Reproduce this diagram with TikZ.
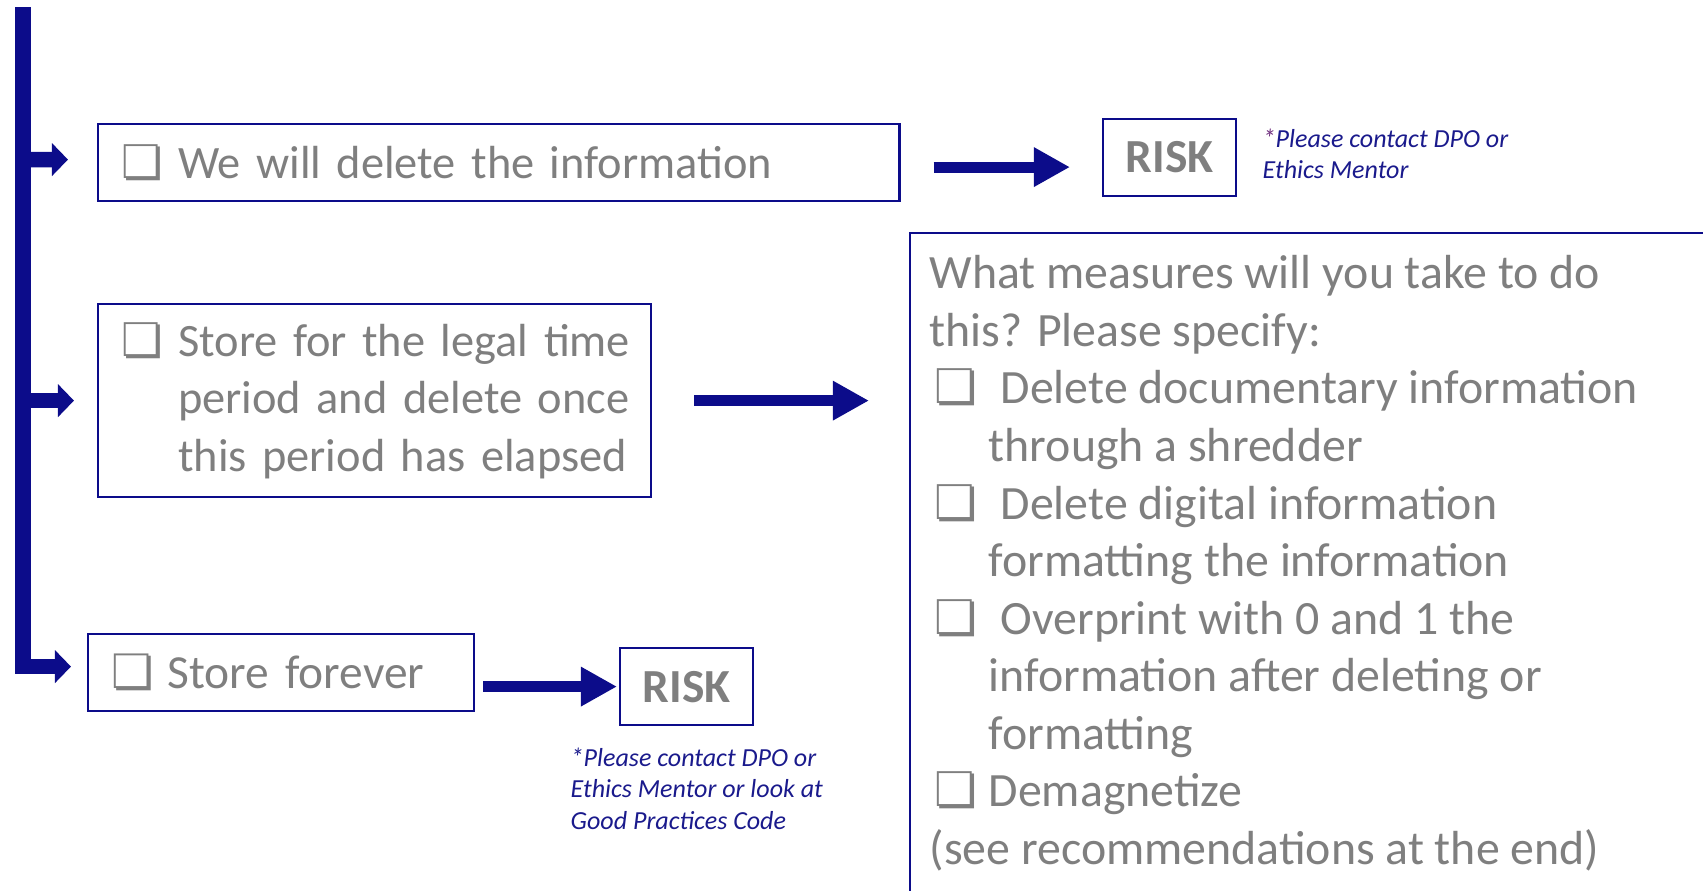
\documentclass[tikz,border=0pt]{standalone}
\usepackage{fontspec}
\setmainfont{Carlito}
\newfontfamily\symfont{DejaVu Sans}
\usetikzlibrary{arrows.meta}
\definecolor{navy}{HTML}{0C0C8A}
\definecolor{txtgray}{HTML}{7F7F7F}
\definecolor{noteblue}{HTML}{1A1A8C}
\definecolor{starpurple}{HTML}{70307F}
\newcommand{\chkbox}{{\symfont\char"274F}}

\begin{document}
\begin{tikzpicture}[x=0.01cm,y=-0.01cm]
\tikzstyle{option}=[draw=navy,line width=0.6pt,text=txtgray,font=\fontsize{13.2}{16.36}\selectfont,anchor=north west,align=left,inner xsep=0.235cm,inner ysep=0pt]
\tikzstyle{risk}=[draw=navy,line width=0.6pt,text=txtgray,font=\fontsize{13.5}{16}\selectfont\bfseries,anchor=north west,minimum width=1.33cm,minimum height=0.77cm]
\tikzstyle{note}=[text=noteblue,font=\fontsize{7.4}{8.96}\selectfont\itshape,align=left,anchor=north west,inner sep=0]
\tikzstyle{branch}=[navy,line width=0.155cm,-{Triangle[length=0.16cm,width=0.32cm]}]
\tikzstyle{bigarrow}=[navy,line width=0.11cm,-{Triangle[length=0.36cm,width=0.37cm]}]
\useasboundingbox (0,0) rectangle (1703,890);
\clip (0,0) rectangle (1703,890);

\node[option,text width=7.54cm,minimum height=0.77cm] (b1) at (97,123)
  {\makebox[0.565cm][l]{\chkbox}We will delete the information};
\node[option,text width=5.06cm,minimum height=1.93cm] (b2) at (97,303)
  {\makebox[0.565cm][l]{\chkbox}\mbox{Store for the legal time}\\
   \hspace*{0.565cm}\mbox{period and delete once}\\
   \hspace*{0.565cm}\mbox{this period has elapsed}};
\node[option,font=\fontsize{13.5}{16.36}\selectfont,text width=3.39cm,minimum height=0.77cm] (b3) at (87,633)
  {\makebox[0.56cm][l]{\chkbox}Store forever};

\node[risk] (risk1) at (1102,118) {RISK};
\node[risk] (risk2) at (619,647) {RISK};
\node[note] (note1) at (1262,128) {{\color{starpurple}*}Please contact DPO or\\Ethics Mentor};
\node[note] (note2) at (570,747) {*Please contact DPO or\\Ethics Mentor or look at\\Good Practices Code};

\node[draw=navy,line width=0.6pt,anchor=north west,minimum width=9cm,minimum height=7cm,inner sep=0] (measures) at (909,232) {};
\node[anchor=north west,text=txtgray,font=\fontsize{13.6}{16.36}\selectfont,align=left,inner sep=0] (steps) at (929,255)
  {What measures will you take to do\\
   this? Please specify:\\
   \hspace*{0.05cm}\makebox[0.66cm][l]{\chkbox}Delete documentary information\\
   \hspace*{0.59cm}through a shredder\\
   \hspace*{0.05cm}\makebox[0.66cm][l]{\chkbox}Delete digital information\\
   \hspace*{0.59cm}formatting the information\\
   \hspace*{0.05cm}\makebox[0.66cm][l]{\chkbox}Overprint with 0 and 1 the\\
   \hspace*{0.59cm}information after deleting or\\
   \hspace*{0.59cm}formatting\\
   \hspace*{0.05cm}\makebox[0.54cm][l]{\chkbox}Demagnetize\\
   (see recommendations at the end)};

\coordinate (top) at (23,7);
\draw[branch,line join=miter,shorten >=0.16cm] (top) |- ([yshift=0.06cm]b3.west);
\draw[branch,shorten >=0.29cm] (top |- b1.west) ++(0,-3) -- ([yshift=0.03cm]b1.west);
\draw[branch,shorten >=0.23cm] (top |- b2.west) -- (b2.west);

\draw[bigarrow,shorten <=0.33cm,shorten >=0.32cm] ([yshift=-0.045cm]b1.east) -- ([yshift=-0.045cm]b1.east -| risk1.west);
\draw[bigarrow,shorten <=0.42cm,shorten >=0.40cm] (b2.east) -- (b2.east -| measures.west);
\draw[bigarrow,shorten <=0.08cm,shorten >=0.02cm] (b3.east |- risk2.west) -- (risk2.west);
\end{tikzpicture}
\end{document}
